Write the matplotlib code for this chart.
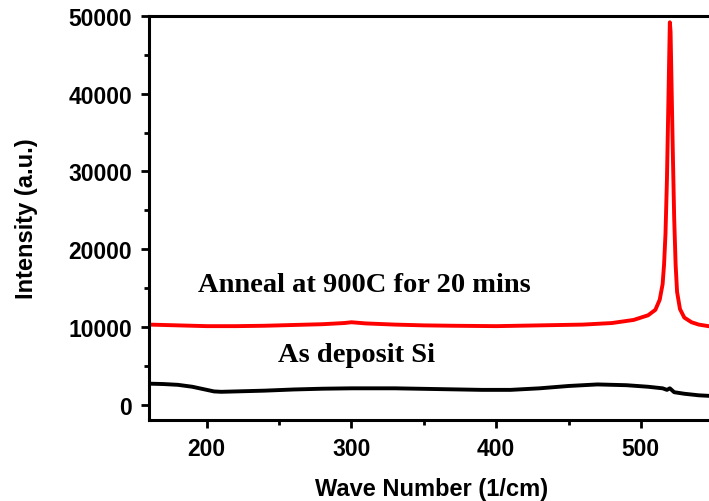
import matplotlib
matplotlib.use("Agg")
import matplotlib.pyplot as plt
from matplotlib.ticker import MultipleLocator

# Raman spectra
wave_annealed = [160, 170, 180, 190, 200, 220, 240, 260, 280, 295, 300, 310, 330, 350,
                 370, 400, 430, 460, 480, 495, 505, 510, 513, 515, 516, 517, 518, 519,
                 520, 520.5, 521, 522, 523, 524, 525, 527, 530, 535, 540, 550]
int_annealed = [10300, 10250, 10200, 10150, 10100, 10100, 10150, 10250, 10350, 10500,
                10600, 10450, 10300, 10200, 10150, 10100, 10200, 10300, 10500, 10900,
                11500, 12200, 13500, 15500, 18000, 22000, 29000, 39000, 49200, 48000,
                43000, 33000, 24000, 18000, 14500, 12300, 11200, 10600, 10300, 10000]

wave_deposit = [160, 170, 180, 190, 200, 205, 210, 220, 240, 260, 280, 300, 330, 360,
                390, 410, 430, 450, 470, 490, 505, 515, 518, 520, 523, 530, 540, 550]
int_deposit = [2700, 2650, 2550, 2300, 1900, 1700, 1650, 1700, 1800, 1950, 2050, 2100,
               2100, 2000, 1900, 1900, 2100, 2400, 2600, 2500, 2300, 2100, 1900, 2100,
               1600, 1400, 1200, 1100]

x_ticks = [200, 300, 400, 500]
y_ticks = [0, 10000, 20000, 30000, 40000, 50000]

fig = plt.figure(figsize=(7.09, 5.02), dpi=100)
ax = fig.add_axes([0.210, 0.161, 0.796, 0.805])

ax.plot(wave_annealed, int_annealed, color="#ff0000", lw=2.8)
ax.plot(wave_deposit, int_deposit, color="black", lw=2.8)

ax.set_xlim(160, 550)
ax.set_ylim(-2000, 50000)
ax.set_xticks(x_ticks)
ax.set_yticks(y_ticks)
ax.xaxis.set_minor_locator(MultipleLocator(50))
ax.yaxis.set_minor_locator(MultipleLocator(5000))

for side in ["left", "bottom", "top", "right"]:
    ax.spines[side].set_linewidth(2.2)

ax.tick_params(which="major", direction="out", length=6, width=2,
               labelsize=16.5, pad=6)
ax.tick_params(which="minor", direction="out", length=3.5, width=2)
for lab in ax.get_xticklabels() + ax.get_yticklabels():
    lab.set_fontweight("bold")
    lab.set_fontfamily("Liberation Sans")

ax.set_xlabel("Wave Number (1/cm)", fontsize=17, fontweight="bold",
              family="Liberation Sans", labelpad=12)
ax.set_ylabel("Intensity (a.u.)", fontsize=17, fontweight="bold",
              family="Liberation Sans", labelpad=22)

ax.text(194, 15400, "Anneal at 900C for 20 mins", fontsize=20.5, fontweight="bold",
        family="Liberation Serif", va="center", ha="left")
ax.text(249, 6400, "As deposit Si", fontsize=20.5, fontweight="bold",
        family="Liberation Serif", va="center", ha="left")

fig.savefig("out.png", dpi=100)
plt.close(fig)
